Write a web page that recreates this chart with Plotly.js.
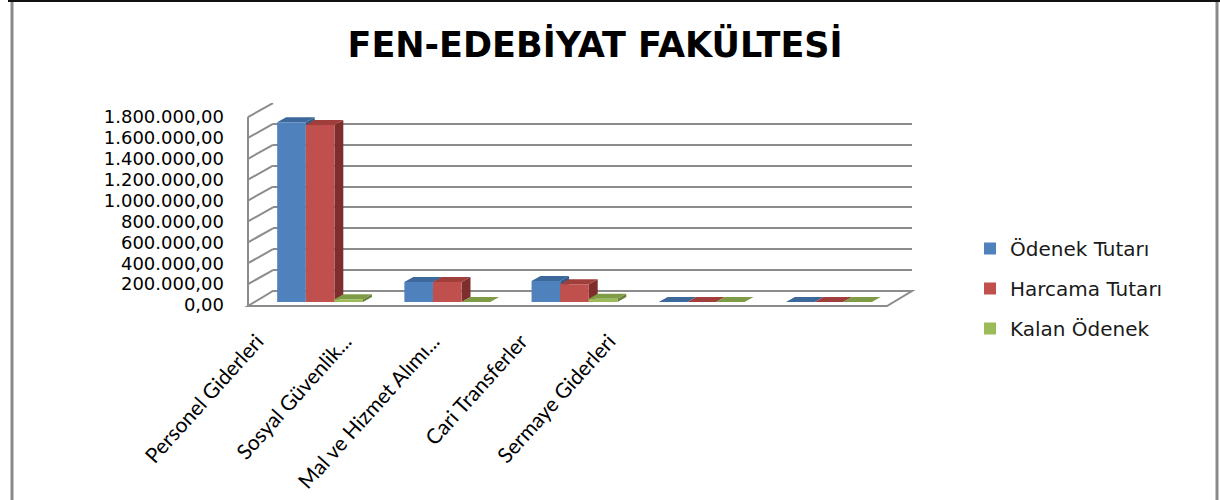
<!DOCTYPE html>
<html><head><meta charset="utf-8">
<script src="https://cdn.plot.ly/plotly-3.0.1.min.js"></script>
<style>html,body{margin:0;padding:0;background:#fff}#chart{width:1220px;height:500px}</style>
</head><body><div id="chart"></div>
<script>
// ---- data ----
const categories = ['Personel Giderleri', 'Sosyal Güvenlik...', 'Mal ve Hizmet Alımı...', 'Cari Transferler', 'Sermaye Giderleri'];
const seriesNames = ['Ödenek Tutarı', 'Harcama Tutarı', 'Kalan Ödenek'];
const odenek  = [1722000, 191000, 201000, 0, 0];
const harcama = [1695000, 191000, 170000, 0, 0];
const kalan   = [27000, 0, 31000, 0, 0];
const yTicks  = [0, 200000, 400000, 600000, 800000, 1000000, 1200000, 1400000, 1600000, 1800000];

// ---- layout helpers ----
const W = 1220, H = 500;
const px = v => v / W, py = v => 1 - v / H;

const frontColors = ['#4F81BD', '#C0504D', '#9BBB59'];
const topColors   = ['#3C689C', '#A03E3B', '#7E9C45'];
const sideColors  = ['#345B89', '#7E2F2D', '#67823A'];
const series = [odenek, harcama, kalan];
const bargap = 0.325;
const bw = (1 - bargap) / 3;
const depthX = 0.07, depthY = 47900;
const gridCol = '#8c8c8c';

const traces = series.map((vals, i) => ({
  type: 'bar', x: categories, y: vals, name: seriesNames[i],
  xaxis: 'x2', yaxis: 'y2',
  marker: {color: frontColors[i], line: {width: 0}},
  legendgroup: 'g' + i, hoverinfo: 'skip'
}));
// invisible carrier trace so that the category-label axis (x3) is drawn
traces.push({type: 'scatter', mode: 'markers', x: categories, y: kalan, xaxis: 'x3', yaxis: 'y2',
  marker: {opacity: 0, size: 1}, showlegend: false, hoverinfo: 'skip'});

const shapes = [];
// floor
shapes.push({type: 'path', xref: 'paper', yref: 'paper', layer: 'below',
  path: `M${px(248)},${py(306)} L${px(887)},${py(306)} L${px(912)},${py(291)} L${px(273)},${py(291)} Z`,
  fillcolor: '#ffffff', line: {color: gridCol, width: 2}});
// left wall vertical edge
shapes.push({type: 'line', xref: 'paper', yref: 'paper', layer: 'below',
  x0: px(248), x1: px(248), y0: py(306), y1: py(117), line: {color: gridCol, width: 2}});
// side wall slanted lines
yTicks.forEach(v => shapes.push({type: 'line', xref: 'paper', yref: 'y', ysizemode: 'pixel', yanchor: v,
  x0: px(248), x1: px(273), y0: -14, y1: 0, layer: 'below', line: {color: gridCol, width: 2}}));
// 3D faces of bars
categories.forEach((c, ci) => {
  series.forEach((vals, i) => {
    const v = vals[ci];
    const x0 = ci - 1.5 * bw + i * bw, x1 = x0 + bw;
    shapes.push({type: 'path', xref: 'x2', yref: 'y2', layer: 'below', line: {width: 0},
      fillcolor: sideColors[i],
      path: `M${x1},0 L${x1},${v} L${x1 + depthX},${v + depthY} L${x1 + depthX},${depthY} Z`});
    shapes.push({type: 'path', xref: 'x2', yref: 'y2', layer: 'below', line: {width: 0},
      fillcolor: topColors[i],
      path: `M${x0},${v} L${x1},${v} L${x1 + depthX},${v + depthY} L${x0 + depthX},${v + depthY} Z`});
  });
});
// outer chart border
shapes.push({type: 'line', xref: 'paper', yref: 'paper', x0: px(12), x1: px(12), y0: 0, y1: 1, line: {color: '#8a8a8a', width: 3}});
shapes.push({type: 'line', xref: 'paper', yref: 'paper', x0: px(1217), x1: px(1217), y0: 0, y1: 1, line: {color: '#8a8a8a', width: 3}});
shapes.push({type: 'line', xref: 'paper', yref: 'paper', x0: px(8), x1: 1, y0: py(1), y1: py(1), line: {color: '#111', width: 2}});

const layout = {
  width: W, height: H, margin: {l: 0, r: 0, t: 0, b: 0},
  paper_bgcolor: '#ffffff', plot_bgcolor: 'rgba(0,0,0,0)',
  separators: ',.',
  barmode: 'group', bargap: bargap, bargroupgap: 0,
  title: {text: 'FEN-EDEBİYAT FAKÜLTESİ',
    font: {family: 'DejaVu Sans', size: 35, color: '#000', weight: 'bold'},
    x: px(595), xref: 'paper', xanchor: 'center', y: py(45), yref: 'container', yanchor: 'middle'},
  xaxis: {domain: [px(273), px(912)], range: [0, 1], anchor: 'y', showgrid: false, zeroline: false,
    showticklabels: false, showline: false, ticks: '', fixedrange: true},
  yaxis: {domain: [py(291), py(102.8)], range: [0, 1802000], anchor: 'x', tickmode: 'array', tickvals: yTicks,
    tickformat: ',.2f', showgrid: true, gridcolor: gridCol, gridwidth: 2, zeroline: false, showline: false,
    ticks: '', ticklabelshift: 14, ticklabelstandoff: 48,
    tickfont: {family: 'DejaVu Sans', size: 18, color: '#000'}, fixedrange: true},
  xaxis2: {domain: [px(256.5), px(892.5)], anchor: 'y2', showticklabels: false, showgrid: false,
    zeroline: false, showline: false, ticks: '', fixedrange: true},
  yaxis2: {domain: [py(302), py(114)], range: [0, 1800000], anchor: 'x2', visible: false, fixedrange: true},
  xaxis3: {domain: [px(213), px(653)], anchor: 'y2', type: 'category', categoryorder: 'array',
    categoryarray: categories, range: [-0.5, 4.5], tickangle: -48,
    tickfont: {family: 'Lato', size: 21, color: '#000'}, showgrid: false, zeroline: false,
    showline: false, ticks: '', ticklabelstandoff: 22, fixedrange: true},
  legend: {x: px(970), y: py(229), xanchor: 'left', yanchor: 'top',
    font: {family: 'DejaVu Sans', size: 20, color: '#1a1a1a'},
    traceorder: 'grouped', tracegroupgap: 11, bgcolor: 'rgba(0,0,0,0)'},
  showlegend: true,
  shapes: shapes
};

Plotly.newPlot('chart', traces, layout, {staticPlot: true, displayModeBar: false});
</script>
</body></html>
